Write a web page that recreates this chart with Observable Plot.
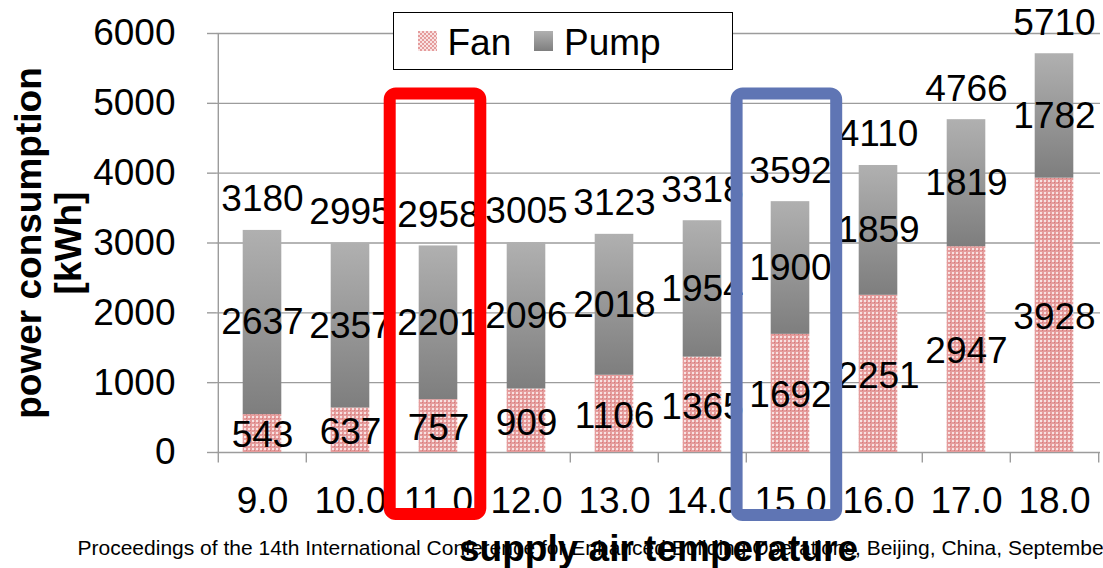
<!DOCTYPE html>
<html>
<head>
<meta charset="utf-8">
<script src="https://cdn.jsdelivr.net/npm/d3@7"></script>
<script src="https://cdn.jsdelivr.net/npm/@observablehq/plot@0.6"></script>
<style>
  html, body { margin: 0; padding: 0; background: #fff; }
  body { font-family: "Liberation Sans", Arial, sans-serif; }
  #wrap { position: relative; width: 1103px; height: 568px; overflow: hidden; }
  #legend { position: absolute; left: 393px; top: 12px; width: 338px; height: 56px;
            border: 1.5px solid #000; background: #fff; }
  #legend .sw { position: absolute; width: 19px; height: 20px; top: 17.5px; }
  #legend .lab { position: absolute; font-size: 37px; line-height: 37px; top: 10.5px; color: #000; white-space: nowrap; }
  #legend .fan { background-color: #e59c9c;
                 background-image: repeating-conic-gradient(#f8e2e2 0 25%, transparent 0 50%);
                 background-size: 4px 4px; }
  #legend .pump { background: linear-gradient(#b0b0b0, #7e7e7e); }
</style>
</head>
<body>
<div id="wrap">
  <div id="chart"></div>
  <div id="legend"></div>
</div>
<script>
// ---- data ----
const temps = ["9.0", "10.0", "11.0", "12.0", "13.0", "14.0", "15.0", "16.0", "17.0", "18.0"];
const fan = [543, 637, 757, 909, 1106, 1365, 1692, 2251, 2947, 3928];
const pump = [2637, 2357, 2201, 2096, 2018, 1954, 1900, 1859, 1819, 1782];
const totals = [3180, 2995, 2958, 3005, 3123, 3318, 3592, 4110, 4766, 5710];
const yTicks = [0, 1000, 2000, 3000, 4000, 5000, 6000];
const seriesNames = ["Fan", "Pump"];
const highlighted = ["11.0", "15.0"];
const yTitle = "power consumption\n[kWh]";
const xTitle = "supply air temperature";
const footer = "Proceedings of the 14th International Conference for Enhanced Building Operations, Beijing, China, September 14-17, 2014";

// ---- table ----
const rows = temps.map((t, i) => ({temp: t, fan: fan[i], pump: pump[i], total: totals[i], top: fan[i] + pump[i]}));

const W = 1103, H = 568, mL = 216, mR = 3, mT = 33, mB = 116;
const step = (W - mL - mR) / temps.length;
const barInset = 24.7;
const gray = "#9c9c9c";
const font = "Liberation Sans, Arial, sans-serif";

const svg = Plot.plot({
  width: W, height: H,
  marginLeft: mL, marginRight: mR, marginTop: mT, marginBottom: mB,
  style: {fontFamily: font, background: "white", color: "black", overflow: "visible"},
  x: {domain: temps, padding: 0},
  y: {domain: [0, 6000]},
  marks: [
    Plot.gridY(yTicks, {stroke: gray, strokeOpacity: 1, strokeWidth: 1.4}),
    Plot.axisY(yTicks, {tickSize: 9, tickPadding: 32, fontSize: 37, stroke: gray, strokeWidth: 1.4, fill: "black", tickFormat: d => String(d), label: null}),
    Plot.ruleX([temps[0]], {x: d => d, dx: -step / 2, stroke: gray, strokeWidth: 1.4}),
    Plot.ruleX(temps, {x: d => d, dx: -step / 2, y1: 0, y2: -150, stroke: gray, strokeWidth: 1.4}),
    Plot.ruleX([temps[temps.length - 1]], {x: d => d, dx: step / 2, y1: 0, y2: -150, stroke: gray, strokeWidth: 1.4}),
    // bars
    Plot.barY(rows, {x: "temp", y1: 0, y2: "fan", fill: "url(#fanPat)", insetLeft: barInset, insetRight: barInset}),
    Plot.barY(rows, {x: "temp", y1: "fan", y2: "top", fill: "url(#pumpGrad)", insetLeft: barInset, insetRight: barInset}),
    // labels
    Plot.text(rows, {x: "temp", y: d => d.fan / 2, text: d => String(d.fan), dy: 2, fontSize: 37, fill: "black"}),
    Plot.text(rows, {x: "temp", y: d => d.fan + d.pump / 2, text: d => String(d.pump), fontSize: 37, fill: "black"}),
    Plot.text(rows, {x: "temp", y: "top", text: d => String(d.total), dy: -31, fontSize: 37, fill: "black"}),
    Plot.axisX({tickSize: 0, tickPadding: 34, fontSize: 37, fill: "black", label: null}),
    // highlight boxes
    Plot.barY([highlighted[0]], {x: d => d, y1: -888, y2: 5134, fill: "none", stroke: "#ff0000", strokeWidth: 12, rx: 6, insetLeft: -4.3, insetRight: 1.7}),
    Plot.barY([highlighted[1]], {x: d => d, y1: -903, y2: 5134, fill: "none", stroke: "#5f75b4", strokeWidth: 12, rx: 6, insetLeft: -9.4, insetRight: -2.2}),
    // titles
    Plot.text([footer], {frameAnchor: "bottom-left", textAnchor: "start", lineAnchor: "middle", dx: -139, dy: 96, fontSize: 21, fill: "black"}),
    Plot.text([xTitle], {frameAnchor: "bottom", textAnchor: "middle", lineAnchor: "middle", dy: 97, fontSize: 37, fontWeight: "bold", fill: "black"}),
    Plot.text([yTitle], {frameAnchor: "left", textAnchor: "middle", lineAnchor: "middle", rotate: -90, dx: -168.5, lineHeight: 1.1, fontSize: 37, fontWeight: "bold", fill: "black"})
  ]
});

const defs = d3.select(svg).insert("defs", ":first-child");
const pat = defs.append("pattern").attr("id", "fanPat").attr("width", 4).attr("height", 4).attr("patternUnits", "userSpaceOnUse");
pat.append("rect").attr("width", 4).attr("height", 4).attr("fill", "#e59c9c");
pat.append("rect").attr("width", 2).attr("height", 2).attr("fill", "#f8e2e2");
pat.append("rect").attr("x", 2).attr("y", 2).attr("width", 1).attr("height", 1).attr("fill", "#d57a7a");
const grad = defs.append("linearGradient").attr("id", "pumpGrad").attr("x1", 0).attr("y1", 0).attr("x2", 0).attr("y2", 1);
grad.append("stop").attr("offset", 0).attr("stop-color", "#b0b0b0");
grad.append("stop").attr("offset", 1).attr("stop-color", "#7e7e7e");

document.getElementById("chart").appendChild(svg);

// legend
const legend = document.getElementById("legend");
const items = [
  {name: seriesNames[0], cls: "fan", sw: 23.5, lab: 53.5},
  {name: seriesNames[1], cls: "pump", sw: 139.5, lab: 170}
];
for (const it of items) {
  const s = document.createElement("div");
  s.className = "sw " + it.cls;
  s.style.left = it.sw + "px";
  legend.appendChild(s);
  const l = document.createElement("div");
  l.className = "lab";
  l.style.left = it.lab + "px";
  l.textContent = it.name;
  legend.appendChild(l);
}
</script>
</body>
</html>
